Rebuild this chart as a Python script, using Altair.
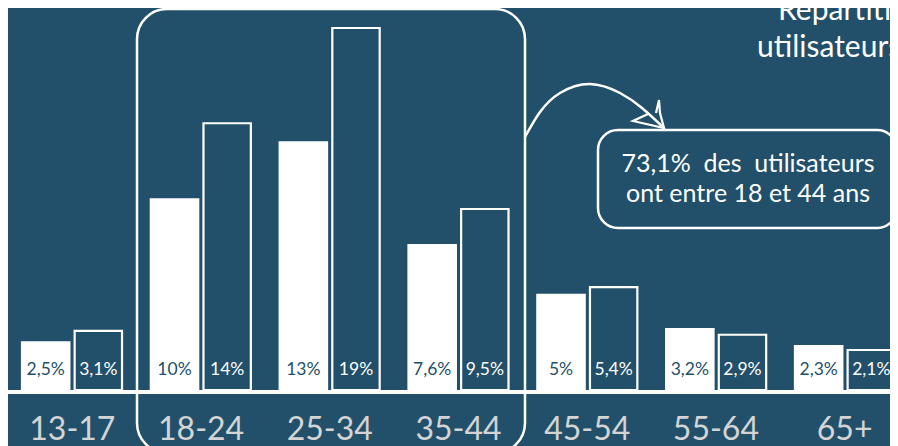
import altair as alt
import pandas as pd

# ---- data ----
categories = ["13-17", "18-24", "25-34", "35-44", "45-54", "55-64", "65+"]
series = ["Série A", "Série B"]
values_a = [2.5, 10, 13, 7.6, 5, 3.2, 2.3]
values_b = [3.1, 14, 19, 9.5, 5.4, 2.9, 2.1]
labels_a = ["2,5%", "10%", "13%", "7,6%", "5%", "3,2%", "2,3%"]
labels_b = ["3,1%", "14%", "19%", "9,5%", "5,4%", "2,9%", "2,1%"]
title_lines = ["Répartition des", "utilisateurs par âge"]
note_lines = ["73,1%\u00a0\u00a0des\u00a0\u00a0utilisateurs", "ont entre 18 et 44 ans"]

BG = "#22506a"
FONT = "Lato"

rows = []
for i, c in enumerate(categories):
    rows.append({"categorie": c, "serie": series[0], "valeur": values_a[i], "label": labels_a[i]})
    rows.append({"categorie": c, "serie": series[1], "valeur": values_b[i], "label": labels_b[i]})
df = pd.DataFrame(rows)
cat_df = pd.DataFrame({"categorie": categories})

x_enc = alt.X("categorie:N", sort=categories,
              scale=alt.Scale(range=[0, 901], paddingInner=0.2236, paddingOuter=0.1087), axis=None)
xo_enc = alt.XOffset("serie:N", sort=series,
                     scale=alt.Scale(paddingInner=0.1, paddingOuter=0))
y_enc = alt.Y("valeur:Q", scale=alt.Scale(domain=[-2.94, 20.05], nice=False, zero=False), axis=None)

bars = alt.Chart(df).mark_bar(stroke="white", strokeWidth=2.2).encode(
    x=x_enc, xOffset=xo_enc, y=y_enc, y2=alt.datum(0),
    fill=alt.Fill("serie:N", scale=alt.Scale(domain=series, range=["#ffffff", BG]), legend=None),
)

bar_labels = alt.Chart(df).mark_text(font=FONT, fontSize=17.5, baseline="middle").encode(
    x=x_enc, xOffset=xo_enc, y=alt.value(362), text="label:N",
    color=alt.Color("serie:N", scale=alt.Scale(domain=series, range=[BG, "#ffffff"]), legend=None),
)

cat_labels = alt.Chart(cat_df).mark_text(font=FONT, fontSize=32, baseline="alphabetic",
                                         color="#d4d4d4").encode(
    x=x_enc, y=alt.value(432), text="categorie:N"
)

one = pd.DataFrame({"k": [0]})
baseline = alt.Chart(one).mark_rule(color="white", strokeWidth=4).encode(
    x=alt.value(0), x2=alt.value(901), y=alt.value(384)
)

group_box = alt.Chart(one).mark_rect(fillOpacity=0, stroke="white", strokeWidth=2.5,
                                     cornerRadius=30).encode(
    x=alt.value(129), x2=alt.value(517), y=alt.value(1), y2=alt.value(445)
)

note_box = alt.Chart(one).mark_rect(fillOpacity=0, stroke="white", strokeWidth=2.5,
                                    cornerRadius=20).encode(
    x=alt.value(590), x2=alt.value(889), y=alt.value(122), y2=alt.value(220)
)

arc_x = [517, 532, 552, 582, 612, 634, 656]
arc_y = [129, 104, 85, 76, 85, 100, 120]
arc_df = pd.DataFrame({"px": arc_x, "py": arc_y, "ordre": list(range(len(arc_x)))})
arc = alt.Chart(arc_df).mark_line(color="white", strokeWidth=2.5, interpolate="natural").encode(
    x=alt.X("px:Q", scale=None, axis=None), y=alt.Y("py:Q", scale=None, axis=None), order="ordre:Q"
)

head_x = [640, 625, 656, 652, 651, 648]
head_y = [106, 113, 120, 105, 92, 105]
head_df = pd.DataFrame({"px": head_x, "py": head_y, "ordre": list(range(len(head_x)))})
head = alt.Chart(head_df).mark_line(color="white", strokeWidth=2.2, strokeJoin="miter").encode(
    x=alt.X("px:Q", scale=None, axis=None), y=alt.Y("py:Q", scale=None, axis=None), order="ordre:Q"
)

note_df = pd.DataFrame({"t": note_lines, "py": [164, 194]})
note = alt.Chart(note_df).mark_text(font=FONT, fontSize=25, color="white", align="center",
                                    baseline="alphabetic").encode(
    x=alt.value(740), y=alt.Y("py:Q", scale=None, axis=None), text="t:N"
)

title_df = pd.DataFrame({"t": title_lines, "px": [770, 749], "py": [12, 49]})
title = alt.Chart(title_df).mark_text(font=FONT, fontSize=30, color="white", align="left",
                                      baseline="alphabetic").encode(
    x=alt.X("px:Q", scale=None, axis=None), y=alt.Y("py:Q", scale=None, axis=None), text="t:N"
)

chart = alt.layer(
    group_box, bars, baseline, bar_labels, cat_labels, note_box, arc, head, note, title
).resolve_scale(x="independent", y="independent").properties(
    width=882, height=438, padding=0, autosize=alt.AutoSizeParams(type="none"), background=BG
).configure_view(stroke=None)

chart.save("out.html", embed_options={"renderer": "svg", "actions": False})
